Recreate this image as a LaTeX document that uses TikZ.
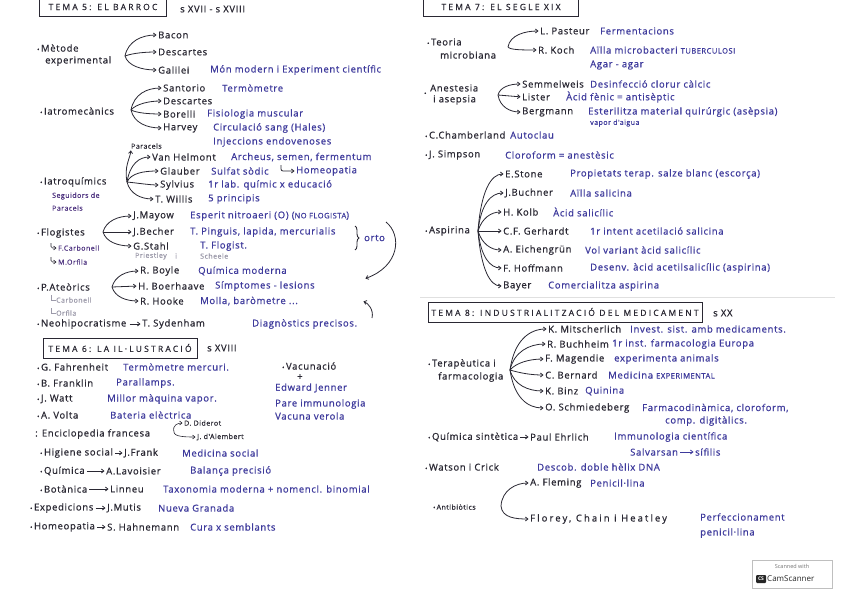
\documentclass[tikz,border=0pt]{standalone}
\usepackage{fontspec}
\setmainfont{Open Sans}
\newfontfamily\hw[LetterSpace=7,FakeBold=0.7]{Open Sans}
\newfontfamily\hwc[LetterSpace=26,FakeBold=0.7]{Open Sans}
\newfontfamily\hww[LetterSpace=22,FakeBold=0.7]{Open Sans}
\usetikzlibrary{arrows.meta,decorations.pathreplacing}
\definecolor{ink}{HTML}{2A2833}
\definecolor{blu}{HTML}{3E3A9C}
\definecolor{pur}{HTML}{4E3380}
\definecolor{gry}{HTML}{9C9AAA}
\newcommand\mybul{{\fontsize{6}{6}\selectfont\textbullet}\,}
\newcommand\capz[1]{{\fontsize{7.5}{8}\selectfont #1}}
\begin{document}
\begin{tikzpicture}[x=1pt,y=-1pt,
  t/.style={anchor=west,inner sep=0pt,text=ink,font=\hw\fontsize{9.5}{11}\selectfont},
  d/.style={t,text=blu},
  s/.style={t,text=pur,font=\hw\fontsize{7}{8}\selectfont},
  g/.style={s,text=gry},
  hd/.style={inner sep=0pt,text=ink,font=\hwc\fontsize{8.5}{10}\selectfont},
  arr/.style={draw=ink,line width=0.8pt,-{Straight Barb[length=2.5pt,width=4pt]},shorten >=1.5pt},
  ln/.style={draw=ink,line width=0.9pt}]
\useasboundingbox (0,0) rectangle (848,599);
\fill[white] (0,0) rectangle (848,599);
\draw[black!12,line width=0.6pt] (420,297) -- (835,297);

% ---------------- TEMA 5
\node[hd,minimum width=126pt,minimum height=18pt] (h5) at (103,7) {TEMA 5: EL BARROC};
\draw[ln] (h5.north west) -- (h5.south west) -- (h5.south east) -- (h5.north east);
\node[t] (s5) at (180,9) {s XVII - s XVIII};

\node[t] (met) at (37,48) {\mybul Mètode};
\node[t] (exper) at (45,61) {experimental};
\coordinate (fm) at (125,56);
\node[t] (bacon) at (158,35) {Bacon};
\node[t] (desc1) at (158,52) {Descartes};
\node[t] (gal) at (158,70) {Galilei};
\node[d] (galD) at (210,70) {Món modern i Experiment científic};
\draw[arr] (fm) .. controls +(3,-15) and +(-16,0) .. (bacon.west);
\draw[arr] (fm) .. controls +(8,-3) and +(-12,0) .. (desc1.west);
\draw[arr] (fm) .. controls +(3,10) and +(-16,0) .. (gal.west);

\node[t] (iam) at (40,111) {\mybul Iatromecànics};
\coordinate (fi) at (131,110);
\node[t] (sant) at (163,88) {Santorio};
\node[d] (santD) at (222,88) {Termòmetre};
\node[t] (desc2) at (163,101) {Descartes};
\node[t] (bor) at (163,114) {Borelli};
\node[d] (borD) at (207,114) {Fisiologia muscular};
\node[t] (harv) at (163,128) {Harvey};
\node[d] (harvD) at (213,128) {Circulació sang (Hales)};
\node[d] (harvE) at (213,142) {Injeccions endovenoses};
\draw[arr] (fi) .. controls +(3,-16) and +(-16,0) .. (sant.west);
\draw[arr] (fi) .. controls +(5,-6) and +(-14,0) .. (desc2.west);
\draw[arr] (fi) .. controls +(6,3) and +(-14,0) .. (bor.west);
\draw[arr] (fi) .. controls +(3,13) and +(-16,0) .. (harv.west);

\node[s,text=ink] (parac) at (131,146) {Paracels};
\node[t] (vh) at (152,157) {Van Helmont};
\node[d] (vhD) at (231,157) {Archeus, semen, fermentum};
\node[t] (gla) at (160,171) {Glauber};
\node[d] (glaD) at (211,171) {Sulfat sòdic};
\node[d] (homeo) at (296,171) {Homeopatia};
\coordinate (hk) at (281,165);
\draw[arr,rounded corners=2pt] (hk) |- (homeo.west);
\node[t] (syl) at (160,185) {Sylvius};
\node[d] (sylD) at (208,185) {1r lab. químic x educació};
\node[t] (wil) at (155,199) {T. Willis};
\node[d] (wilD) at (208,199) {5 principis};
\node[t] (iaq) at (40,182) {\mybul Iatroquímics};
\node[s] (seg1) at (52,196) {Seguidors de};
\node[s] (seg2) at (52,208) {Paracels};
\coordinate (fq) at (127,182);
\draw[arr] (fq) .. controls +(-3,-16) and +(-1,10) .. (parac.south west);
\draw[arr] (fq) .. controls +(3,-18) and +(-13,0) .. (vh.west);
\draw[arr] (fq) .. controls +(4,-9) and +(-16,0) .. (gla.west);
\draw[arr] (fq) .. controls +(10,1) and +(-10,0) .. (syl.west);
\draw[arr] (fq) .. controls +(3,12) and +(-14,0) .. (wil.west);

\node[t] (flo) at (37,233) {\mybul Flogistes};
\node[s] (fcar) at (58,248) {F.Carbonell};
\node[s] (morf) at (58,262) {M.Orfila};
\coordinate (hk2) at (51,243);
\coordinate (hk3) at (51,257);
\draw[arr,line width=0.6pt,rounded corners=1.5pt] (hk2) |- (fcar.west);
\draw[arr,line width=0.6pt,rounded corners=1.5pt] (hk3) |- (morf.west);
\coordinate (ff) at (103,232);
\node[t] (may) at (133,216) {J.Mayow};
\node[d] (mayD) at (190,216) {Esperit nitroaeri (O) (\capz{NO FLOGISTA})};
\node[t] (bech) at (133,232) {J.Becher};
\node[d] (bechD) at (190,232) {T. Pinguis, lapida, mercurialis};
\node[t] (sta) at (133,246) {G.Stahl};
\node[d] (staD) at (200,246) {T. Flogist.};
\node[g] (pri) at (135,256) {Priestley};
\node[g] (pri2) at (175,256) {i};
\node[g] (sch) at (200,256) {Scheele};
\draw[arr] (ff) .. controls +(3,-11) and +(-15,0) .. (may.west);
\draw[arr] (ff) -- (bech.west);
\draw[arr] (ff) .. controls +(3,10) and +(-15,0) .. (sta.west);
\draw[ln,decorate,decoration={brace,amplitude=4pt}] (355,226) -- (355,250);
\node[d] (orto) at (364,238) {orto};
\coordinate (ca1) at (386,222);
\coordinate (ca2) at (364,279);
\draw[arr] (ca1) .. controls (402,235) and (400,266) .. (ca2);

\node[t] (pat) at (37,287) {\mybul P.Ateòrics};
\node[g] (cc) at (56,300) {Carbonell};
\node[g] (oo) at (56,313) {Orfila};
\coordinate (lc1) at (51,295);
\coordinate (lc2) at (51,308);
\draw[gry,line width=0.5pt] (lc1) |- (cc.west);
\draw[gry,line width=0.5pt] (lc2) |- (oo.west);
\coordinate (fp) at (112,287);
\node[t] (boy) at (140,271) {R. Boyle};
\node[d] (boyD) at (198,271) {Química moderna};
\node[t] (boe) at (138,286) {H. Boerhaave};
\node[d] (boeD) at (215,286) {Símptomes - lesions};
\node[t] (hoo) at (140,301) {R. Hooke};
\node[d] (hooD) at (200,301) {Molla, baròmetre ...};
\draw[arr] (fp) .. controls +(3,-11) and +(-14,0) .. (boy.west);
\draw[arr] (fp) -- (boe.west);
\draw[arr] (fp) .. controls +(3,10) and +(-14,0) .. (hoo.west);
\coordinate (cb1) at (372,318);
\coordinate (cb2) at (362,301);
\draw[arr] (cb1) .. controls (374,310) and (368,303) .. (cb2);

\node[t] (neo) at (37,324) {\mybul Neohipocratisme};
\node[t] (syd) at (142,324) {T. Sydenham};
\node[d] (sydD) at (252,324) {Diagnòstics precisos.};
\draw[arr,shorten <=3pt] (neo.east) -- (syd.west);

% ---------------- TEMA 6
\node[hd,draw=ink,line width=0.9pt,minimum width=154pt,minimum height=20pt] (h6) at (120,348) {TEMA 6: LA IL·LUSTRACIÓ};
\node[t] (s6) at (207,348) {s XVIII};
\node[t] (fah) at (37,367) {\mybul G. Fahrenheit};
\node[d] (fahD) at (123,367) {Termòmetre mercuri.};
\node[t] (fra) at (37,383) {\mybul B. Franklin};
\node[d] (fraD) at (116,383) {Parallamps.};
\node[t] (wat) at (37,399) {\mybul J. Watt};
\node[d] (watD) at (107,399) {Millor màquina vapor.};
\node[t] (vol) at (37,415) {\mybul A. Volta};
\node[d] (volD) at (110,415) {Bateria elèctrica};
\node[t] (enc) at (35,434) {: Enciclopedia francesa};
\node[s,text=ink] (did) at (184,423) {D. Diderot};
\node[s,text=ink] (dal) at (197,437) {J. d'Alembert};
\coordinate (fe) at (174,432);
\draw[arr,line width=0.6pt] (fe) .. controls +(-2,-7) and +(-6,0) .. (did.west);
\draw[arr,line width=0.6pt] (fe) .. controls +(0,5) and +(-10,0) .. (dal.west);
\node[t] (vac) at (282,366) {\mybul Vacunació};
\node[t] (plus) at (297,377) {+};
\node[d] (jen) at (275,388) {Edward Jenner};
\node[d] (jen2) at (275,404) {Pare immunologia};
\node[d] (jen3) at (275,416) {Vacuna verola};

\node[t] (hig) at (40,453) {\mybul Higiene social};
\node[t] (frk) at (124,453) {J.Frank};
\node[d] (frkD) at (182,453) {Medicina social};
\node[t] (qui) at (40,471) {\mybul Química};
\node[t] (lav) at (106,471) {A.Lavoisier};
\node[d] (lavD) at (190,471) {Balança precisió};
\node[t] (bot) at (40,489) {\mybul Botànica};
\node[t] (lin) at (110,489) {Linneu};
\node[d] (linD) at (163,489) {Taxonomia moderna + nomencl. binomial};
\node[t] (expd) at (30,508) {\mybul Expedicions};
\node[t] (mut) at (107,508) {J.Mutis};
\node[d] (mutD) at (158,508) {Nueva Granada};
\node[t] (hom) at (30,527) {\mybul Homeopatia};
\node[t] (hah) at (107,527) {S. Hahnemann};
\node[d] (hahD) at (190,527) {Cura x semblants};
\foreach \a/\b in {hig/frk,qui/lav,bot/lin,expd/mut,hom/hah}
  \draw[arr,shorten <=2pt] (\a.east) -- (\b.west);

% ---------------- TEMA 7
\node[hd,minimum width=155pt,minimum height=18pt] (h7) at (501,7) {TEMA 7: EL SEGLE XIX};
\draw[ln] (h7.north west) -- (h7.south west) -- (h7.south east) -- (h7.north east);
\node[t] (teo) at (427,42) {\mybul Teoria};
\node[t] (mic) at (440,55) {microbiana};
\coordinate (ft) at (508,47);
\node[t] (pas) at (540,31) {L. Pasteur};
\node[d] (pasD) at (600,31) {Fermentacions};
\node[t] (koch) at (538,50) {R. Koch};
\node[d] (kochD) at (590,50) {Aïlla microbacteri \capz{TUBERCULOSI}};
\node[d] (agar) at (590,65) {Agar - agar};
\draw[arr] (ft) .. controls +(2,-12) and +(-15,0) .. (pas.west);
\draw[arr] (ft) .. controls +(2,3) and +(-15,0) .. (koch.west);

\node[t] (bA) at (424,94) {\mybul};
\node[t] (ane) at (430,88) {Anestesia};
\node[t] (asep) at (433,100) {i asepsia};
\coordinate (fa) at (498,95);
\node[t] (sem) at (522,84) {Semmelweis};
\node[d] (semD) at (590,84) {Desinfecció clorur càlcic};
\node[t] (lis) at (522,97) {Lister};
\node[d] (lisD) at (566,97) {Àcid fènic = antisèptic};
\node[t] (ber) at (522,112) {Bergmann};
\node[d] (berD) at (588,112) {Esterilitza material quirúrgic (asèpsia)};
\node[s,text=blu] (berE) at (590,123) {vapor d'aigua};
\draw[arr] (fa) .. controls +(2,-8) and +(-12,0) .. (sem.west);
\draw[arr] (fa) -- (lis.west);
\draw[arr] (fa) .. controls +(2,12) and +(-12,0) .. (ber.west);

\node[t] (cha) at (425,135) {\mybul C.Chamberland};
\node[d] (chaD) at (510,135) {Autoclau};
\node[t] (simp) at (425,155) {\mybul J. Simpson};
\node[d] (simpD) at (505,155) {Cloroform = anestèsic};

\node[t] (aspi) at (425,231) {\mybul Aspirina};
\coordinate (fs) at (478,231);
\node[t] (sto) at (505,174) {E.Stone};
\node[d] (stoD) at (570,174) {Propietats terap. salze blanc (escorça)};
\node[t] (buc) at (505,193) {J.Buchner};
\node[d] (bucD) at (570,193) {Aïlla salicina};
\node[t] (kol) at (503,212) {H. Kolb};
\node[d] (kolD) at (553,212) {Àcid salicílic};
\node[t] (ger) at (503,231) {C.F. Gerhardt};
\node[d] (gerD) at (590,231) {1r intent acetilació salicina};
\node[t] (eic) at (503,250) {A. Eichengrün};
\node[d] (eicD) at (585,250) {Vol variant àcid salicílic};
\node[t] (hof) at (503,268) {F. Hoffmann};
\node[d] (hofD) at (590,268) {Desenv. àcid acetilsalicílic (aspirina)};
\node[t] (bay) at (503,286) {Bayer};
\node[d] (bayD) at (548,286) {Comercialitza aspirina};
\draw[arr] (fs) .. controls +(3,-40) and +(-14,0) .. (sto.west);
\draw[arr] (fs) .. controls +(3,-27) and +(-14,0) .. (buc.west);
\draw[arr] (fs) .. controls +(4,-13) and +(-12,0) .. (kol.west);
\draw[arr] (fs) -- (ger.west);
\draw[arr] (fs) .. controls +(4,13) and +(-12,0) .. (eic.west);
\draw[arr] (fs) .. controls +(3,26) and +(-13,0) .. (hof.west);
\draw[arr] (fs) .. controls +(3,38) and +(-13,0) .. (bay.west);

% ---------------- TEMA 8
\node[hd,draw=ink,line width=0.9pt,minimum width=274pt,minimum height=20pt] (h8) at (565,312) {TEMA 8: INDUSTRIALITZACIÓ DEL MEDICAMENT};
\node[t] (s8) at (713,313) {s XX};
\node[t] (ter) at (428,364) {\mybul Terapèutica i};
\node[t] (farm) at (438,377) {farmacologia};
\coordinate (fT) at (510,370);
\node[t] (mit) at (548,329) {K. Mitscherlich};
\node[d] (mitD) at (630,329) {Invest. sist. amb medicaments.};
\node[t] (buh) at (547,344) {R. Buchheim};
\node[d] (buhD) at (612,344) {1r inst. farmacologia Europa};
\node[t] (mag) at (545,359) {F. Magendie};
\node[d] (magD) at (614,359) {experimenta animals};
\node[t] (bern) at (545,375) {C. Bernard};
\node[d] (bernD) at (608,375) {Medicina \capz{EXPERIMENTAL}};
\node[t] (binz) at (545,391) {K. Binz};
\node[d] (binzD) at (585,391) {Quinina};
\node[t] (sch2) at (545,408) {O. Schmiedeberg};
\node[d] (sch2D) at (642,408) {Farmacodinàmica, cloroform,};
\node[d] (sch2E) at (665,421) {comp. digitàlics.};
\draw[arr] (fT) .. controls +(4,-29) and +(-19,0) .. (mit.west);
\draw[arr] (fT) .. controls +(4,-18) and +(-18,0) .. (buh.west);
\draw[arr] (fT) .. controls +(6,-7) and +(-16,0) .. (mag.west);
\draw[arr] (fT) .. controls +(10,3) and +(-14,0) .. (bern.west);
\draw[arr] (fT) .. controls +(4,15) and +(-17,0) .. (binz.west);
\draw[arr] (fT) .. controls +(4,27) and +(-18,0) .. (sch2.west);

\node[t] (qs) at (428,437) {\mybul Química sintètica};
\node[t] (ehr) at (530,437) {Paul Ehrlich};
\node[d] (ehrD) at (614,437) {Immunologia científica};
\draw[arr,shorten <=2pt] (qs.east) -- (ehr.west);
\node[d] (salv) at (630,452) {Salvarsan};
\node[d] (sif) at (695,452) {sífilis};
\draw[arr,draw=blu,shorten <=2pt] (salv.east) -- (sif.west);
\node[t] (wc) at (425,467) {\mybul Watson i Crick};
\node[d] (wcD) at (537,467) {Descob. doble hèlix DNA};
\node[s,text=ink] (anti) at (433,507) {\mybul Antibiòtics};
\coordinate (fab) at (501,506);
\node[t] (fle) at (530,483) {A. Fleming};
\node[d] (fleD) at (590,483) {Penicil·lina};
\node[t,font=\hww\fontsize{9.5}{11}\selectfont] (flr) at (530,519) {Florey, Chain i Heatley};
\node[d] (flrD) at (700,517) {Perfeccionament};
\node[d] (flrE) at (700,533) {penicil·lina};
\draw[arr] (fab) .. controls +(1,-16) and +(-14,0) .. (fle.west);
\draw[arr] (fab) .. controls +(1,12) and +(-14,0) .. (flr.west);

% ---------------- CamScanner badge
\node[draw=black!25,line width=0.4pt,minimum width=80pt,minimum height=28pt,inner sep=0pt] (cs) at (792,574) {};
\node[text=black!55,font=\fontsize{5.5}{6}\selectfont] (cs1) at (792,566) {Scanned with};
\node[fill=black!85,text=white,font=\bfseries\fontsize{5}{5}\selectfont,rounded corners=1pt,inner sep=1pt,minimum width=10pt,minimum height=8pt] (cs2) at (761,579) {CS};
\node[anchor=west,inner sep=0pt,text=black!85,font=\fontsize{8}{9}\selectfont] (cs3) at (767,579) {CamScanner};
\end{tikzpicture}
\end{document}
